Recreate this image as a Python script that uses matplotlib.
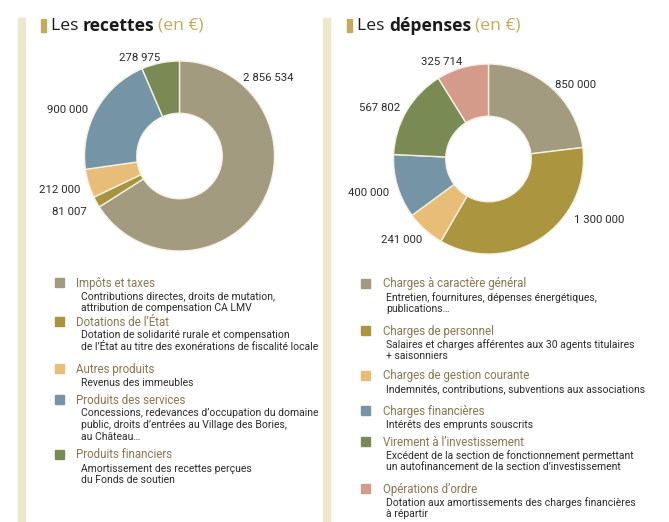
import matplotlib
matplotlib.use("Agg")
import matplotlib.pyplot as plt
from matplotlib import font_manager
from matplotlib.patches import Rectangle

# ---------------- data ----------------
rec_labels = ["Impôts et taxes", "Dotations de l\u2019État", "Autres produits",
              "Produits des services", "Produits financiers"]
rec_values = [2856534, 81007, 212000, 900000, 278975]
rec_value_text = ["2 856 534", "81 007", "212 000", "900 000", "278 975"]
rec_desc = [
    ["Contributions directes, droits de mutation,", "attribution de compensation CA LMV"],
    ["Dotation de solidarité rurale et compensation",
     "de l\u2019État au titre des exonérations de fiscalité locale"],
    ["Revenus des immeubles"],
    ["Concessions, redevances d\u2019occupation du domaine",
     "public, droits d\u2019entrées au Village des Bories,", "au Château\u2026"],
    ["Amortissement des recettes perçues", "du Fonds de soutien"],
]

dep_labels = ["Charges à caractère général", "Charges de personnel",
              "Charges de gestion courante", "Charges financières",
              "Virement à l\u2019investissement", "Opérations d\u2019ordre"]
dep_values = [850000, 1300000, 241000, 400000, 567802, 325714]
dep_value_text = ["850 000", "1 300 000", "241 000", "400 000", "567 802", "325 714"]
dep_desc = [
    ["Entretien, fournitures, dépenses énergétiques,", "publications\u2026"],
    ["Salaires et charges afférentes aux 30 agents titulaires", "+ saisonniers"],
    ["Indemnités, contributions, subventions aux associations"],
    ["Intérêts des emprunts souscrits"],
    ["Excédent de la section de fonctionnement permettant",
     "un autofinancement de la section d\u2019investissement"],
    ["Dotation aux amortissements des charges financières", "à répartir"],
]

# ---------------- style ----------------
rec_colors = ["#a39b80", "#a8943e", "#e7bd78", "#7595a7", "#7a8a55"]
dep_colors = ["#a39b80", "#ab963f", "#e7bd78", "#7595a7", "#7a8a55", "#d49a8a"]
gold = "#c2ac5c"
title_brown = "#8a7450"
text_dark = "#2a2a2a"
bar_col = "#efe6cc"

avail = {f.name for f in font_manager.fontManager.ttflist}
narrow = "Liberation Sans Narrow" if "Liberation Sans Narrow" in avail else "Roboto"
FONT = [narrow, "DejaVu Sans"]
FONT_T = ["Open Sans", "DejaVu Sans"]

W, H = 669, 522
fig = plt.figure(figsize=(W / 100, H / 100), dpi=100)
fig.patch.set_facecolor("white")


def fx(x):
    return x / W


def fy(y):
    return 1 - y / H


# vertical bars
for x0 in (18, 323):
    fig.patches.append(Rectangle((fx(x0), 0), fx(7), fy(18), transform=fig.transFigure,
                                 color=bar_col, zorder=0))

TFS = 12.6


def title(x, word):
    fig.patches.append(Rectangle((fx(x), fy(32)), fx(5), 13 / H, transform=fig.transFigure,
                                 color=gold, zorder=1))
    t1 = fig.text(fx(x + 10), fy(26), "Les ", fontsize=TFS, family=FONT_T,
                  color="#1a1a1a", va="center", ha="left")
    fig.canvas.draw()
    bb = t1.get_window_extent()
    t2 = fig.text(bb.x1 / W, fy(26), word, fontsize=TFS, family=FONT_T,
                  weight="bold", color="#1a1a1a", va="center", ha="left")
    fig.canvas.draw()
    bb2 = t2.get_window_extent()
    fig.text(bb2.x1 / W + 4 / W, fy(26), "(en \u20ac)", fontsize=TFS, family=FONT_T,
             color=gold, va="center", ha="left")


title(41, "recettes")
title(347, "dépenses")

R = 95


def donut(cx, cy, values, colors, texts, label_pos):
    ax = fig.add_axes([fx(cx - 1.5 * R), fy(cy + 1.5 * R), 3 * R / W, 3 * R / H])
    ax.pie(values, colors=colors, startangle=90, counterclock=False,
           wedgeprops=dict(width=0.55, edgecolor="#f4f1e4", linewidth=1.0))
    ax.set_xlim(-1.5, 1.5)
    ax.set_ylim(-1.5, 1.5)
    ax.set_aspect("equal")
    ax.axis("off")
    for t, (lx, ly) in zip(texts, label_pos):
        ax.text(lx, ly, t, fontsize=8.2, family=FONT, color=text_dark,
                ha="center", va="center")


rec_label_pos = [(0.93, 0.82), (-1.16, -0.59), (-1.26, -0.36), (-1.18, 0.48), (-0.42, 1.03)]
dep_label_pos = [(0.92, 0.78), (1.16, -0.64), (-0.91, -0.85), (-1.26, -0.36),
                 (-1.15, 0.54), (-0.49, 1.02)]

donut(179.5, 156, rec_values, rec_colors, rec_value_text, rec_label_pos)
donut(488.5, 159, dep_values, dep_colors, dep_value_text, dep_label_pos)


def legend(sq_x, title_x, desc_x, title_ys, labels, descs, colors):
    for yt, lab, desc, col in zip(title_ys, labels, descs, colors):
        fig.patches.append(Rectangle((fx(sq_x), fy(yt + 4)), fx(9), 9 / H,
                                     transform=fig.transFigure, color=col))
        fig.text(fx(title_x), fy(yt), lab, fontsize=8.3, family=FONT,
                 color=title_brown, va="center", ha="left")
        for i, line in enumerate(desc):
            fig.text(fx(desc_x), fy(yt + 13.5 + 11.8 * i), line, fontsize=7.45,
                     family=FONT, color=text_dark, va="center", ha="left")


legend(55, 76, 81, [283, 322, 369, 400, 455], rec_labels, rec_desc, rec_colors)
legend(361, 383, 386, [284, 331, 376, 411, 442, 489], dep_labels, dep_desc, dep_colors)

fig.savefig("out.png", dpi=100, facecolor="white")
